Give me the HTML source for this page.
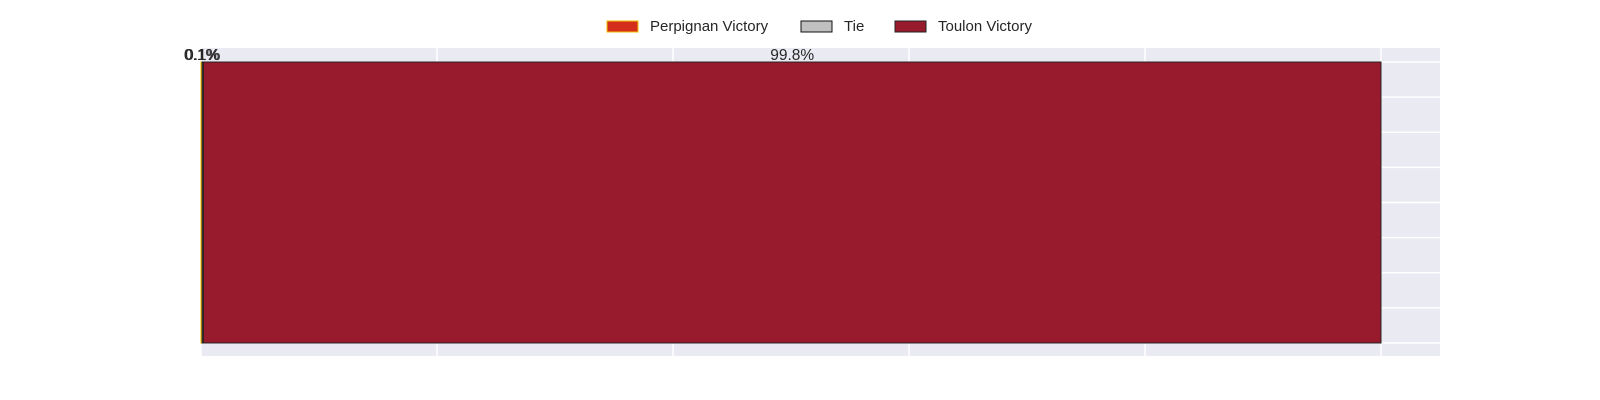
<!DOCTYPE html>
<html><head><meta charset="utf-8"><style>
html,body{margin:0;padding:0;background:#fff;}
svg{display:block;font-family:"Liberation Sans",Arial,sans-serif;}
</style></head><body>
<svg id="chart" width="1600" height="400" viewBox="0 0 1600 400">
  <g id="legend"></g>
  <rect x="201" y="48" width="1239" height="308" fill="#eaeaf2"/>
  <g id="grid"></g>
  <g id="bars"></g>
  <g id="labels"></g>
</svg>
<script>
const categories = ["Perpignan Victory", "Tie", "Toulon Victory"];
const values = [0.001, 0.001, 0.998];
const valueLabels = ["0.1%", "0.1%", "99.8%"];
const xTicks = [0, 0.2, 0.4, 0.6, 0.8, 1.0];

const fills = ["#d32f1c", "#c0c0c0", "#981b2d"];
const strokes = ["#f0c000", "#111111", "#222222"];
const NS = "http://www.w3.org/2000/svg";
const X0 = 201, XMAX = 1.05, PW = 1239;
const x = v => X0 + v / XMAX * PW;
const barTop = 62, barBot = 343;

function mk(tag, attrs, parent) {
  const e = document.createElementNS(NS, tag);
  for (const k in attrs) e.setAttribute(k, attrs[k]);
  parent.appendChild(e);
  return e;
}
const grid = document.getElementById('grid');
xTicks.forEach(t => {
  const l = mk('line', {x1: x(t), x2: x(t), y1: 48, y2: 356, stroke: '#fff', 'stroke-width': 1.5}, grid);
  
  
});
for (let i = 0; i < 9; i++) {
  const y = barTop + i * (barBot - barTop) / 8;
  const l = mk('line', {x1: 201, x2: 1440, y1: y, y2: y, stroke: '#fff', 'stroke-width': 1.5}, grid);
  
  
}
const bars = document.getElementById('bars');
const labels = document.getElementById('labels');
let cum = 0;
values.forEach((v, i) => {
  const r = mk('rect', {x: x(cum), y: barTop, width: Math.max(x(cum + v) - x(cum), 0.5), height: barBot - barTop, fill: fills[i], stroke: strokes[i], 'stroke-width': 1}, bars);
  
  
  const t = mk('text', {x: x(cum + v / 2), y: barTop - 2, 'text-anchor': 'middle', 'font-size': 15.5, fill: '#262626'}, labels);
  t.textContent = valueLabels[i];
  
  
  cum += v;
});
const legend = document.getElementById('legend');
const lx = [607, 801, 895];
categories.forEach((c, i) => {
  const g = mk('g', {}, legend);
  
  
  mk('rect', {x: lx[i], y: 21, width: 31, height: 11, fill: fills[i], stroke: strokes[i], 'stroke-width': 1}, g);
  const t = mk('text', {x: lx[i] + 43, y: 31, 'font-size': 15, fill: '#262626'}, g);
  t.textContent = c;
});
</script>
</body></html>
